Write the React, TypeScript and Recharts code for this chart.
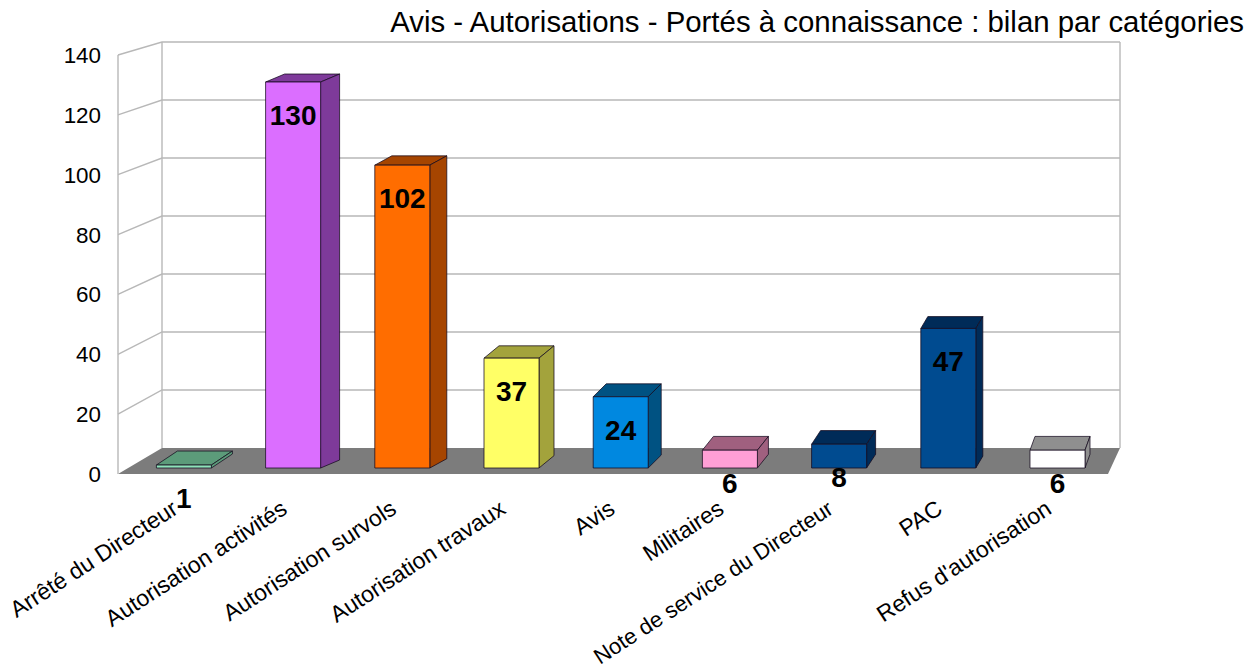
import React from "react";
import { ComposedChart, Bar, Line, XAxis, YAxis, LabelList, Cell, CartesianGrid } from "recharts";

const categories = ["Arrêté du Directeur", "Autorisation activités", "Autorisation survols", "Autorisation travaux", "Avis", "Militaires", "Note de service du Directeur", "PAC", "Refus d'autorisation"];
const values = [1, 130, 102, 37, 24, 6, 8, 47, 6];
const frontColors = ["#8FE3BA", "#DB6EFF", "#FF6D00", "#FFFF66", "#0088E0", "#FF9FD6", "#004B90", "#004B90", "#FFFFFF"];
const sideColors = ["#5C9B7A", "#7E3A9A", "#A64500", "#A3A33C", "#005282", "#A0607F", "#002B58", "#002B58", "#8F8F8F"];
const yTicks = [0, 20, 40, 60, 80, 100, 120, 140];
const title = "Avis - Autorisations - Portés à connaissance : bilan par catégories";

const data = categories.map((name, i) => ({ name, value: values[i] }));
const FONT = "'Liberation Sans', Arial, sans-serif";
const GRID = "#b8b8b8";

// wall projection: front-plane y -> back-plane y
const backY = (y: number) => 448 - (474 - y) * (406 / 419);

const GridLine = (p: any) => {
  const y = p.y1;
  const isFloor = Math.abs(y - 474) < 1;
  const isTop = Math.abs(y - 55) < 1;
  return (
    <g>
      {isFloor && <polygon points={`118,${y} 1108,${y} 1120,${backY(y)} 162,${backY(y)}`} fill="#7c7c7c" />}
      {isTop && (
        <g stroke={GRID} strokeWidth={1.4} fill="none">
          <line x1={118} y1={y} x2={118} y2={474} />
          <line x1={162} y1={backY(y)} x2={162} y2={448} />
          <line x1={1120} y1={backY(y)} x2={1120} y2={448} />
        </g>
      )}
      {!isFloor && (
        <polyline points={`118,${y} 162,${backY(y)} 1120,${backY(y)}`} fill="none" stroke={GRID} strokeWidth={1.4} />
      )}
    </g>
  );
};

const YTick = (p: any) => (
  <text x={101} y={p.y + 8} textAnchor="end" fontFamily={FONT} fontSize={22.4} fill="#000">{p.payload.value}</text>
);

const XTick = (p: any) => (
  <text
    transform={`translate(${p.x - 4.5},${p.y + 30.5}) rotate(-33)`}
    textAnchor="end"
    fontFamily={FONT}
    fontSize={p.payload.value.length > 24 ? 22.1 : 23}
    fill="#000"
  >
    {p.payload.value}
  </text>
);

const Box3D = (p: any) => {
  const { x, y, width, height, fill, side } = p;
  const cx = x + width / 2;
  const dx = 21 - (cx - 184) * 0.0183;
  const dy = 8 + (y - 82) * (6 / 383);
  const r = x + width;
  const b = y + height;
  const stroke = "rgba(20,10,30,0.75)";
  return (
    <g stroke={stroke} strokeWidth={1} strokeLinejoin="round">
      <polygon points={`${x},${y} ${x + dx},${y - dy} ${r + dx},${y - dy} ${r},${y}`} fill={side} />
      <polygon points={`${r},${y} ${r + dx},${y - dy} ${r + dx},${b - dy} ${r},${b}`} fill={side} />
      <rect x={x} y={y} width={width} height={height} fill={fill} />
    </g>
  );
};

const ValueLabel = (p: any) => (
  <text
    x={p.x + p.width / 2}
    y={p.y + 43}
    textAnchor="middle"
    fontFamily={FONT}
    fontWeight="bold"
    fontSize={28}
    fill="#000"
  >
    {p.value}
  </text>
);

export default function App() {
  return (
    <div style={{ position: "absolute", left: 0, top: 0, width: 1260, height: 668, background: "#fff" }}>
      <ComposedChart width={1260} height={668} data={data} margin={{ top: 55, right: 147.8, bottom: 0, left: 0 }}>
        <text x={1244} y={32} textAnchor="end" fontFamily={FONT} fontSize={29.4} fill="#000">{title}</text>
        <CartesianGrid vertical={false} horizontal={(g: any) => <GridLine key={g.key ?? g.y1} {...g} />} horizontalValues={yTicks} />
        <XAxis dataKey="name" interval={0} height={194} axisLine={false} tickLine={false} tick={<XTick />} />
        <YAxis width={129.4} domain={[0, 140]} ticks={yTicks} interval={0} axisLine={false} tickLine={false} tick={<YTick />} />
        <YAxis yAxisId="bars" hide domain={[-2.02, 139.1]} allowDataOverflow />
        <Line dataKey="value" stroke="none" dot={false} activeDot={false} isAnimationActive={false} />
        <Bar yAxisId="bars" dataKey="value" barSize={55} isAnimationActive={false} shape={(s: any) => <Box3D {...s} side={sideColors[s.index]} fill={frontColors[s.index]} />}>
          {data.map((d, i) => <Cell key={d.name} fill={frontColors[i]} />)}
          <LabelList dataKey="value" content={<ValueLabel />} />
        </Bar>
      </ComposedChart>
    </div>
  );
}
